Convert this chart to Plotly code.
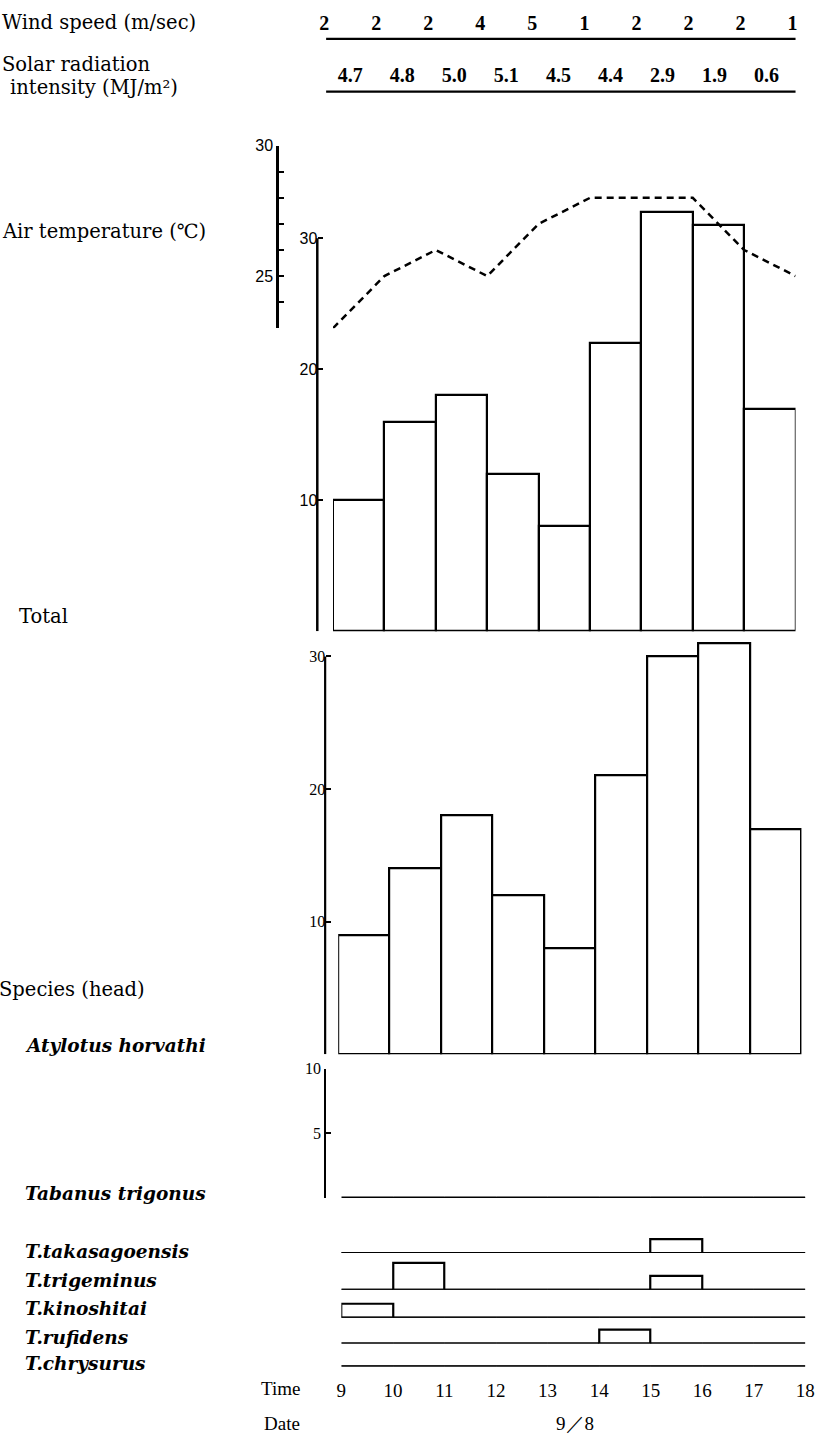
import plotly.graph_objects as go

W, H = 835, 1441


def px(x):
    return x / W


def py(y):
    return 1 - y / H


# ---------------- data ----------------
hours = list(range(9, 19))
hour_labels = [str(h) for h in hours]
bin_mid = [h + 0.5 for h in hours[:-1]]

wind_speed = [2, 2, 2, 4, 5, 1, 2, 2, 2, 1]
solar_radiation = [4.7, 4.8, 5.0, 5.1, 4.5, 4.4, 2.9, 1.9, 0.6]
air_temperature = [23, 25, 26, 25, 27, 28, 28, 28, 26, 25]
total_catch = [10, 16, 18, 12, 8, 22, 32, 31, 17]
atylotus_horvathi = [9, 14, 18, 12, 8, 21, 30, 31, 17]
tabanus_trigonus = [0, 0, 0, 0, 0, 0, 0, 0, 0]
species_names = ["T.takasagoensis", "T.trigeminus", "T.kinoshitai", "T.rufidens", "T.chrysurus"]
t_takasagoensis = [0, 0, 0, 0, 0, 0, 1, 0, 0]
t_trigeminus = [0, 2, 0, 0, 0, 0, 1, 0, 0]
t_kinoshitai = [1, 0, 0, 0, 0, 0, 0, 0, 0]
t_rufidens = [0, 0, 0, 0, 0, 1, 0, 0, 0]
t_chrysurus = [0, 0, 0, 0, 0, 0, 0, 0, 0]
species_counts = [t_takasagoensis, t_trigeminus, t_kinoshitai, t_rufidens, t_chrysurus]

# ---------------- style ----------------
SERIF = "DejaVu Serif"
bar_marker = dict(color="white", line=dict(color="black", width=2.2))
fig = go.Figure()

# Total (top bars) + air temperature
fig.add_trace(go.Bar(x=bin_mid, y=total_catch, width=1, marker=bar_marker,
                     xaxis="x", yaxis="y", showlegend=False))
fig.add_trace(go.Scatter(x=hours, y=air_temperature, mode="lines",
                         line=dict(color="black", width=2.5, dash="7px,5px"),
                         xaxis="x", yaxis="y2", showlegend=False))

# Atylotus horvathi bars
fig.add_trace(go.Bar(x=bin_mid, y=atylotus_horvathi, width=1, marker=bar_marker,
                     xaxis="x2", yaxis="y3", showlegend=False))

# Tabanus trigonus (all zero)
fig.add_trace(go.Bar(x=bin_mid, y=tabanus_trigonus, width=1, marker=bar_marker,
                     xaxis="x3", yaxis="y4", showlegend=False))
fig.add_trace(go.Scatter(x=[hours[0] + 0.5, hours[-1]], y=[0, 0], mode="lines",
                         line=dict(color="black", width=2.2),
                         xaxis="x3", yaxis="y4", showlegend=False))

# species rows
row_baselines = [1252, 1289, 1317, 1343, 1366]
for i, (name, counts) in enumerate(zip(species_names, species_counts)):
    ya = "y%d" % (5 + i)
    fig.add_trace(go.Bar(x=bin_mid, y=counts, width=1, marker=bar_marker,
                         xaxis="x4", yaxis=ya, showlegend=False))
    fig.add_trace(go.Scatter(x=[hours[0], hours[-1]], y=[0, 0], mode="lines",
                             line=dict(color="black", width=2.2),
                             xaxis="x4", yaxis=ya, showlegend=False))

# wind / solar rows
numfont = dict(family="Liberation Serif", size=20, color="black")
fig.add_trace(go.Scatter(x=hours, y=[1] * len(hours), mode="text",
                         text=["<b>%d</b>" % v for v in wind_speed], textfont=numfont,
                         xaxis="x5", yaxis="y10", showlegend=False, cliponaxis=False))
fig.add_trace(go.Scatter(x=bin_mid, y=[0] * len(bin_mid), mode="text",
                         text=["<b>%.1f</b>" % v for v in solar_radiation], textfont=numfont,
                         xaxis="x5", yaxis="y10", showlegend=False, cliponaxis=False))

hidden = dict(visible=False, showgrid=False, zeroline=False)
tickfont = dict(family="Liberation Sans", size=16, color="black")
yaxis_common = dict(showgrid=False, zeroline=False, showline=False, ticks="inside",
                    ticklen=5, tickwidth=2, tickcolor="black", tickfont=tickfont,
                    anchor="free", fixedrange=True)

layout = dict(
    width=W, height=H, margin=dict(l=0, r=0, t=0, b=0),
    paper_bgcolor="white", plot_bgcolor="rgba(0,0,0,0)",
    showlegend=False, bargap=0,
    xaxis=dict(hidden, domain=[px(334), px(805)], range=[9, 18], anchor="y"),
    yaxis=dict(yaxis_common, domain=[py(626.7), py(192)], range=[0, 33],
               position=px(318), tickvals=[0, 10, 20, 30], ticktext=["", "10", "20", "30"]),
    yaxis2=dict(yaxis_common, domain=[py(322), py(138.5)], range=[23, 30],
                position=px(277), showline=True, linecolor="black", linewidth=2.5,
                tickvals=list(range(23, 31)),
                ticktext=["" if v not in (25, 30) else str(v) for v in range(23, 31)]),
    xaxis2=dict(hidden, domain=[px(339.3), px(811)], range=[9, 18], anchor="y3"),
    yaxis3=dict(yaxis_common, domain=[py(1052), py(618.7)], range=[0, 32.5],
                position=px(326), tickvals=[0, 10, 20, 30], ticktext=["", "10", "20", "30"],
                tickfont=dict(family="Liberation Serif", size=16, color="black")),
    xaxis3=dict(hidden, domain=[px(342.5), px(815)], range=[9, 18], anchor="y4"),
    yaxis4=dict(yaxis_common, domain=[py(1196.7), py(1066.7)], range=[0, 10],
                position=px(326), showline=True, linecolor="black", linewidth=2,
                tickvals=[0, 5, 10], ticktext=["", "5", "10"],
                tickfont=dict(family="Liberation Serif", size=16, color="black")),
    xaxis4=dict(showgrid=False, zeroline=False, showline=False, ticks="",
                domain=[px(342.5), px(815)], range=[9, 18], anchor="free",
                position=py(1377), tickvals=hours, ticktext=hour_labels,
                tickfont=dict(family="Liberation Serif", size=19, color="black")),
    xaxis5=dict(hidden, domain=[px(325), px(802)], range=[9, 18], anchor="y10"),
    yaxis10=dict(hidden, domain=[py(69), py(16.7)], range=[0, 1]),
)
for i, b in enumerate(row_baselines):
    layout["yaxis%d" % (5 + i)] = dict(hidden, domain=[py(b), py(b - 30)], range=[0, 30 / 13.5])
fig.update_layout(**layout)

shapes = [
    # underline of the wind row and the solar row
    dict(type="line", xref="paper", yref="paper", x0=px(327), x1=px(805), y0=py(31), y1=py(31),
         line=dict(color="black", width=2.2)),
    dict(type="line", xref="paper", yref="paper", x0=px(327), x1=px(805), y0=py(84), y1=py(84),
         line=dict(color="black", width=2.2)),
    # axis lines of the bar panels (0 .. 30 only)
    dict(type="line", xref="paper", yref="y", x0=px(318), x1=px(318), y0=0, y1=30,
         line=dict(color="black", width=2.5)),
    dict(type="line", xref="paper", yref="y3", x0=px(326), x1=px(326), y0=0, y1=30,
         line=dict(color="black", width=2.2)),
]
fig.update_layout(shapes=shapes)

lab = dict(family=SERIF, size=19.5, color="black")
ital = dict(family=SERIF, size=18.5, color="black")
tfont = dict(family="Liberation Serif", size=19, color="black")
ann = []


def label(text, x, y, font=lab, anchor="left"):
    ann.append(dict(text=text, xref="paper", yref="paper", x=px(x), y=py(y),
                    xanchor=anchor, yanchor="middle", showarrow=False, font=font))


label("Wind speed (m/sec)", -5, 15)
label("Solar radiation", -5, 57)
label("intensity (MJ/m²)", 3, 80)
label("Air temperature (℃)", -5, 225)
label("Total", 12, 612)
label("Species (head)", -8, 987)
label("<b><i>Atylotus horvathi</i></b>", 18, 1043, ital)
label("<b><i>Tabanus trigonus</i></b>", 18, 1192, ital)
for name, yy in zip(species_names, [1250, 1280, 1308, 1337, 1363]):
    label("<b><i>%s</i></b>" % name, 18, yy, ital)
label("Time", 302, 1388, tfont, "right")
label("Date", 302, 1423, tfont, "right")
label("9／8", 580, 1423, tfont, "center")
fig.update_layout(annotations=ann)

fig.write_html("out.html")
